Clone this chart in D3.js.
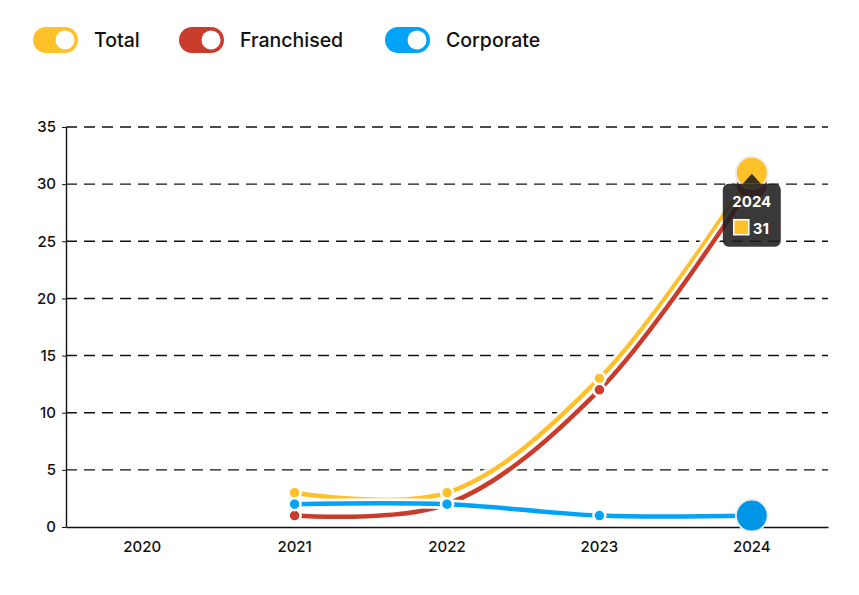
<!DOCTYPE html>
<html>
<head>
<meta charset="utf-8">
<script src="https://cdn.jsdelivr.net/npm/d3@7"></script>
<style>
  body { margin: 0; background: #fff; }
  svg { font-family: Inter, "Noto Sans", sans-serif; }
</style>
</head>
<body>
<svg id="chart"></svg>
<script>
const width = 859;
const height = 595;

// Data
const years = ['2020', '2021', '2022', '2023', '2024'];
const total = [null, 3, 3, 13, 31];
const franchised = [null, 1, 2, 12, 30];
const corporate = [null, 2, 2, 1, 1];
const yTicks = [0, 5, 10, 15, 20, 25, 30, 35];

const series = [
    { name: 'Total', values: total, color: '#FFC12A' },
    { name: 'Franchised', values: franchised, color: '#C93C2C' },
    { name: 'Corporate', values: corporate, color: '#00A3F5' }
];

const margin = { top: 127, right: 31, bottom: 68, left: 66 };

const svg = d3.select('#chart')
    .attr('width', width)
    .attr('height', height);

const x = d3.scaleBand()
    .domain(years)
    .range([margin.left, width - margin.right]);

const y = d3.scaleLinear()
    .domain([0, 35])
    .range([height - margin.bottom, margin.top]);

// Grid lines
svg.append('g')
    .selectAll('line')
    .data(yTicks.filter(d => d > 0))
    .join('line')
    .attr('x1', margin.left)
    .attr('x2', width - margin.right)
    .attr('y1', d => y(d))
    .attr('y2', d => y(d))
    .attr('stroke', '#111')
    .attr('stroke-width', 1.4)
    .attr('stroke-dasharray', '11,7');

// Y axis
const yAxis = svg.append('g')
    .attr('transform', `translate(${margin.left},0)`)
    .call(d3.axisLeft(y).tickValues(yTicks).tickSize(4).tickPadding(6).tickSizeOuter(0));
yAxis.select('.domain').attr('stroke', '#111').attr('stroke-width', 1.4);
yAxis.selectAll('.tick line').attr('stroke', '#111');
yAxis.selectAll('text')
    .attr('font-size', 15)
    .attr('font-weight', 500)
    .attr('fill', '#111')
    .attr('font-family', 'Inter, sans-serif');

// X axis
const xAxis = svg.append('g')
    .attr('transform', `translate(0,${height - margin.bottom})`)
    .call(d3.axisBottom(x).tickSize(0).tickPadding(14));
xAxis.select('.domain').attr('stroke', '#111').attr('stroke-width', 1.4);
xAxis.selectAll('text')
    .attr('font-size', 15)
    .attr('font-weight', 500)
    .attr('fill', '#111')
    .attr('font-family', 'Inter, sans-serif');

const cx = d => x(d.year) + x.bandwidth() / 2;

const line = d3.line()
    .defined(d => d.value != null)
    .x(cx)
    .y(d => y(d.value))
    .curve(d3.curveCatmullRom.alpha(0.5));

series.forEach(s => {
    s.points = years.map((yr, i) => ({ year: yr, value: s.values[i] }));
});

// Lines with white halo
const lineGroup = svg.append('g');
series.forEach(s => {
    lineGroup.append('path')
        .datum(s.points)
        .attr('fill', 'none')
        .attr('stroke', '#fff')
        .attr('stroke-width', 10)
        .attr('d', line);
    lineGroup.append('path')
        .datum(s.points)
        .attr('fill', 'none')
        .attr('stroke', s.color)
        .attr('stroke-width', 4.5)
        .attr('d', line);
});

// Points
const pointGroup = svg.append('g');
series.forEach(s => {
    pointGroup.selectAll(null)
        .data(s.points.filter(d => d.value != null && d.year !== '2024'))
        .join('circle')
        .attr('cx', cx)
        .attr('cy', d => y(d.value))
        .attr('r', 6)
        .attr('fill', s.color)
        .attr('stroke', '#fff')
        .attr('stroke-width', 2.5);
});

// Hovered points at last year
const hoverYear = '2024';
[series[1], series[0], series[2]].forEach(s => {
    const p = s.points.find(d => d.year === hoverYear);
    pointGroup.append('circle')
        .attr('cx', cx(p))
        .attr('cy', y(p.value))
        .attr('r', 16)
        .attr('fill', s.color === '#00A3F5' ? '#0096E8' : s.color)
        .attr('stroke', '#eee')
        .attr('stroke-width', 2);
});

// Tooltip
const tipX = cx({ year: hoverYear });
const tipY = y(total[4]);
const tip = svg.append('g').attr('transform', `translate(${tipX},${tipY})`);
tip.append('path')
    .attr('d', 'M-9,11 L0,1 L9,11 Z')
    .attr('fill', 'rgba(30,30,30,0.88)');
tip.append('rect')
    .attr('x', -29)
    .attr('y', 11)
    .attr('width', 58)
    .attr('height', 63)
    .attr('rx', 6)
    .attr('fill', 'rgba(30,30,30,0.88)');
tip.append('text')
    .attr('x', 0)
    .attr('y', 34)
    .attr('text-anchor', 'middle')
    .attr('fill', '#fff')
    .attr('font-size', 15)
    .attr('font-weight', 700)
    .text(hoverYear);
tip.append('rect')
    .attr('x', -18)
    .attr('y', 47)
    .attr('width', 15)
    .attr('height', 15)
    .attr('fill', series[0].color)
    .attr('stroke', '#fff')
    .attr('stroke-width', 1.5);
tip.append('text')
    .attr('x', 1)
    .attr('y', 61)
    .attr('fill', '#fff')
    .attr('font-size', 15)
    .attr('font-weight', 700)
    .text(total[4]);

// Legend toggles
const legendX = [33, 179, 385];
const legend = svg.append('g');
series.forEach((s, i) => {
    const g = legend.append('g').attr('transform', `translate(${legendX[i]},27)`);
    g.append('rect')
        .attr('width', 45)
        .attr('height', 26)
        .attr('rx', 13)
        .attr('fill', s.color);
    g.append('circle')
        .attr('cx', 32)
        .attr('cy', 13)
        .attr('r', 9.5)
        .attr('fill', '#fff');
    g.append('text')
        .attr('x', 61)
        .attr('y', 20)
        .attr('font-size', 19.5)
        .attr('font-weight', 500)
        .attr('fill', '#111')
        .text(s.name);
});
</script>
</body>
</html>
